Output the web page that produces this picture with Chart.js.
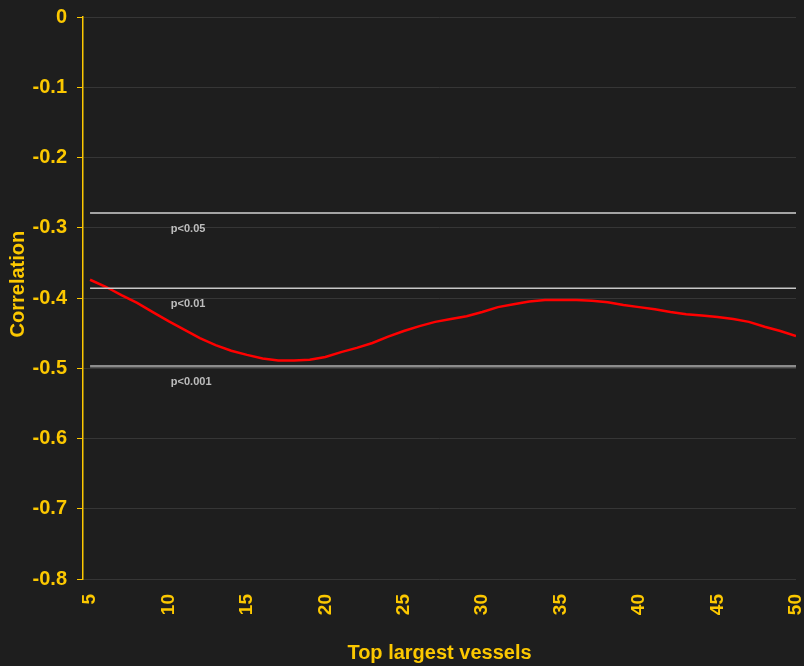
<!DOCTYPE html>
<html>
<head>
<meta charset="utf-8">
<script src="https://cdn.jsdelivr.net/npm/chart.js@4"></script>
<style>
  html, body { margin: 0; padding: 0; background: #1e1e1e; }
  #wrap { width: 804px; height: 666px; }
</style>
</head>
<body>
<div id="wrap"><canvas id="corrChart" width="804" height="666"></canvas></div>
<script>
// vessel counts on the x axis
const vesselCounts = [5, 6, 7, 8, 9, 10, 11, 12, 13, 14, 15, 16, 17, 18, 19, 20, 21, 22, 23, 24, 25, 26, 27,
    28, 29, 30, 31, 32, 33, 34, 35, 36, 37, 38, 39, 40, 41, 42, 43, 44, 45, 46, 47, 48, 49, 50];
// correlation
const correlation = [-0.374, -0.384, -0.396, -0.407, -0.420, -0.433, -0.445, -0.457, -0.467, -0.475,
    -0.481, -0.486, -0.489, -0.489, -0.488, -0.484, -0.477, -0.471, -0.464, -0.455,
    -0.447, -0.440, -0.434, -0.430, -0.426, -0.420, -0.413, -0.409, -0.405, -0.403,
    -0.403, -0.403, -0.404, -0.406, -0.410, -0.413, -0.416, -0.420, -0.423, -0.425,
    -0.427, -0.430, -0.434, -0.441, -0.447, -0.454];
// significance thresholds
const thresholdLabels = ['p<0.05', 'p<0.01', 'p<0.001'];
const thresholdValues = [-0.279, -0.386, -0.497];
const yTicks = [0, -0.1, -0.2, -0.3, -0.4, -0.5, -0.6, -0.7, -0.8];
const xTicks = [5, 10, 15, 20, 25, 30, 35, 40, 45, 50];

const gold = '#fcc800';
const fontFamily = '"Liberation Sans", Arial, sans-serif';
const thresholdColors = ['#d2d2d2', '#c8c8c8', '#8c8c8c'];
const thresholdWidths = [1.5, 1.5, 2.5];

// datasets for the threshold lines, flat across all x values
const thresholdSets = thresholdValues.map((v, i) => ({
    label: thresholdLabels[i],
    data: vesselCounts.map(x => ({x: x, y: v})),
    borderColor: thresholdColors[i],
    borderWidth: thresholdWidths[i],
    pointRadius: 0,
    tension: 0
}));

// write the p-value labels just under each line
const pLabels = {
    id: 'pLabels',
    afterDatasetsDraw(chart) {
        const ctx = chart.ctx;
        const xs = chart.scales.x, ys = chart.scales.y;
        ctx.save();
        ctx.font = 'bold 11px ' + fontFamily;
        ctx.fillStyle = '#bdbdbd';
        ctx.textAlign = 'left';
        ctx.textBaseline = 'middle';
        thresholdValues.forEach((v, i) => {
            ctx.fillText(thresholdLabels[i], xs.getPixelForValue(10.15), ys.getPixelForValue(v) + 16);
        });
        ctx.restore();
    }
};

const ctx = document.getElementById('corrChart').getContext('2d');
const chart = new Chart(ctx, {
    type: 'line',
    data: {
        datasets: [
            ...thresholdSets,
            {
                label: 'Correlation',
                data: vesselCounts.map((x, i) => ({x: x, y: correlation[i]})),
                borderColor: '#ff0000',
                borderWidth: 2.5,
                pointRadius: 0,
                tension: 0
            }
        ]
    },
    options: {
        responsive: false,
        animation: false,
        layout: {
            padding: {top: 17, right: 8, left: 0, bottom: 0}
        },
        plugins: {
            legend: {display: false},
            tooltip: {enabled: false}
        },
        scales: {
            x: {
                type: 'linear',
                min: 4.55,
                max: 50,
                afterBuildTicks: scale => {
                    scale.ticks = xTicks.map(v => ({value: v}));
                },
                afterFit: scale => {
                    scale.height = 87;
                    scale.paddingLeft = 0;
                    scale.paddingRight = 0;
                },
                grid: {display: false, drawTicks: false},
                border: {display: false},
                ticks: {
                    color: gold,
                    font: {family: fontFamily, size: 19, weight: 'bold'},
                    maxRotation: 90,
                    minRotation: 90,
                    padding: 15
                },
                title: {
                    display: true,
                    text: 'Top largest vessels',
                    color: gold,
                    font: {family: fontFamily, size: 20, weight: 'bold'},
                    padding: {top: 4, bottom: 1}
                }
            },
            y: {
                min: -0.8,
                max: 0,
                afterBuildTicks: scale => {
                    scale.ticks = yTicks.map(v => ({value: v}));
                },
                afterFit: scale => {
                    scale.width = 83;
                    scale.paddingTop = 0;
                    scale.paddingBottom = 0;
                },
                grid: {
                    color: '#363636',
                    lineWidth: 1,
                    tickColor: gold,
                    tickLength: 6,
                    drawTicks: true
                },
                border: {color: gold, width: 1.5},
                ticks: {
                    color: gold,
                    font: {family: fontFamily, size: 20, weight: 'bold'},
                    padding: 10,
                    callback: v => Math.abs(v) < 1e-9 ? '0' : String(Math.round(v * 10) / 10)
                },
                title: {
                    display: true,
                    text: '     Correlation',
                    color: gold,
                    font: {family: fontFamily, size: 20, weight: 'bold'},
                    padding: {top: 6, bottom: 0}
                }
            }
        }
    },
    plugins: [pLabels]
});
</script>
</body>
</html>
